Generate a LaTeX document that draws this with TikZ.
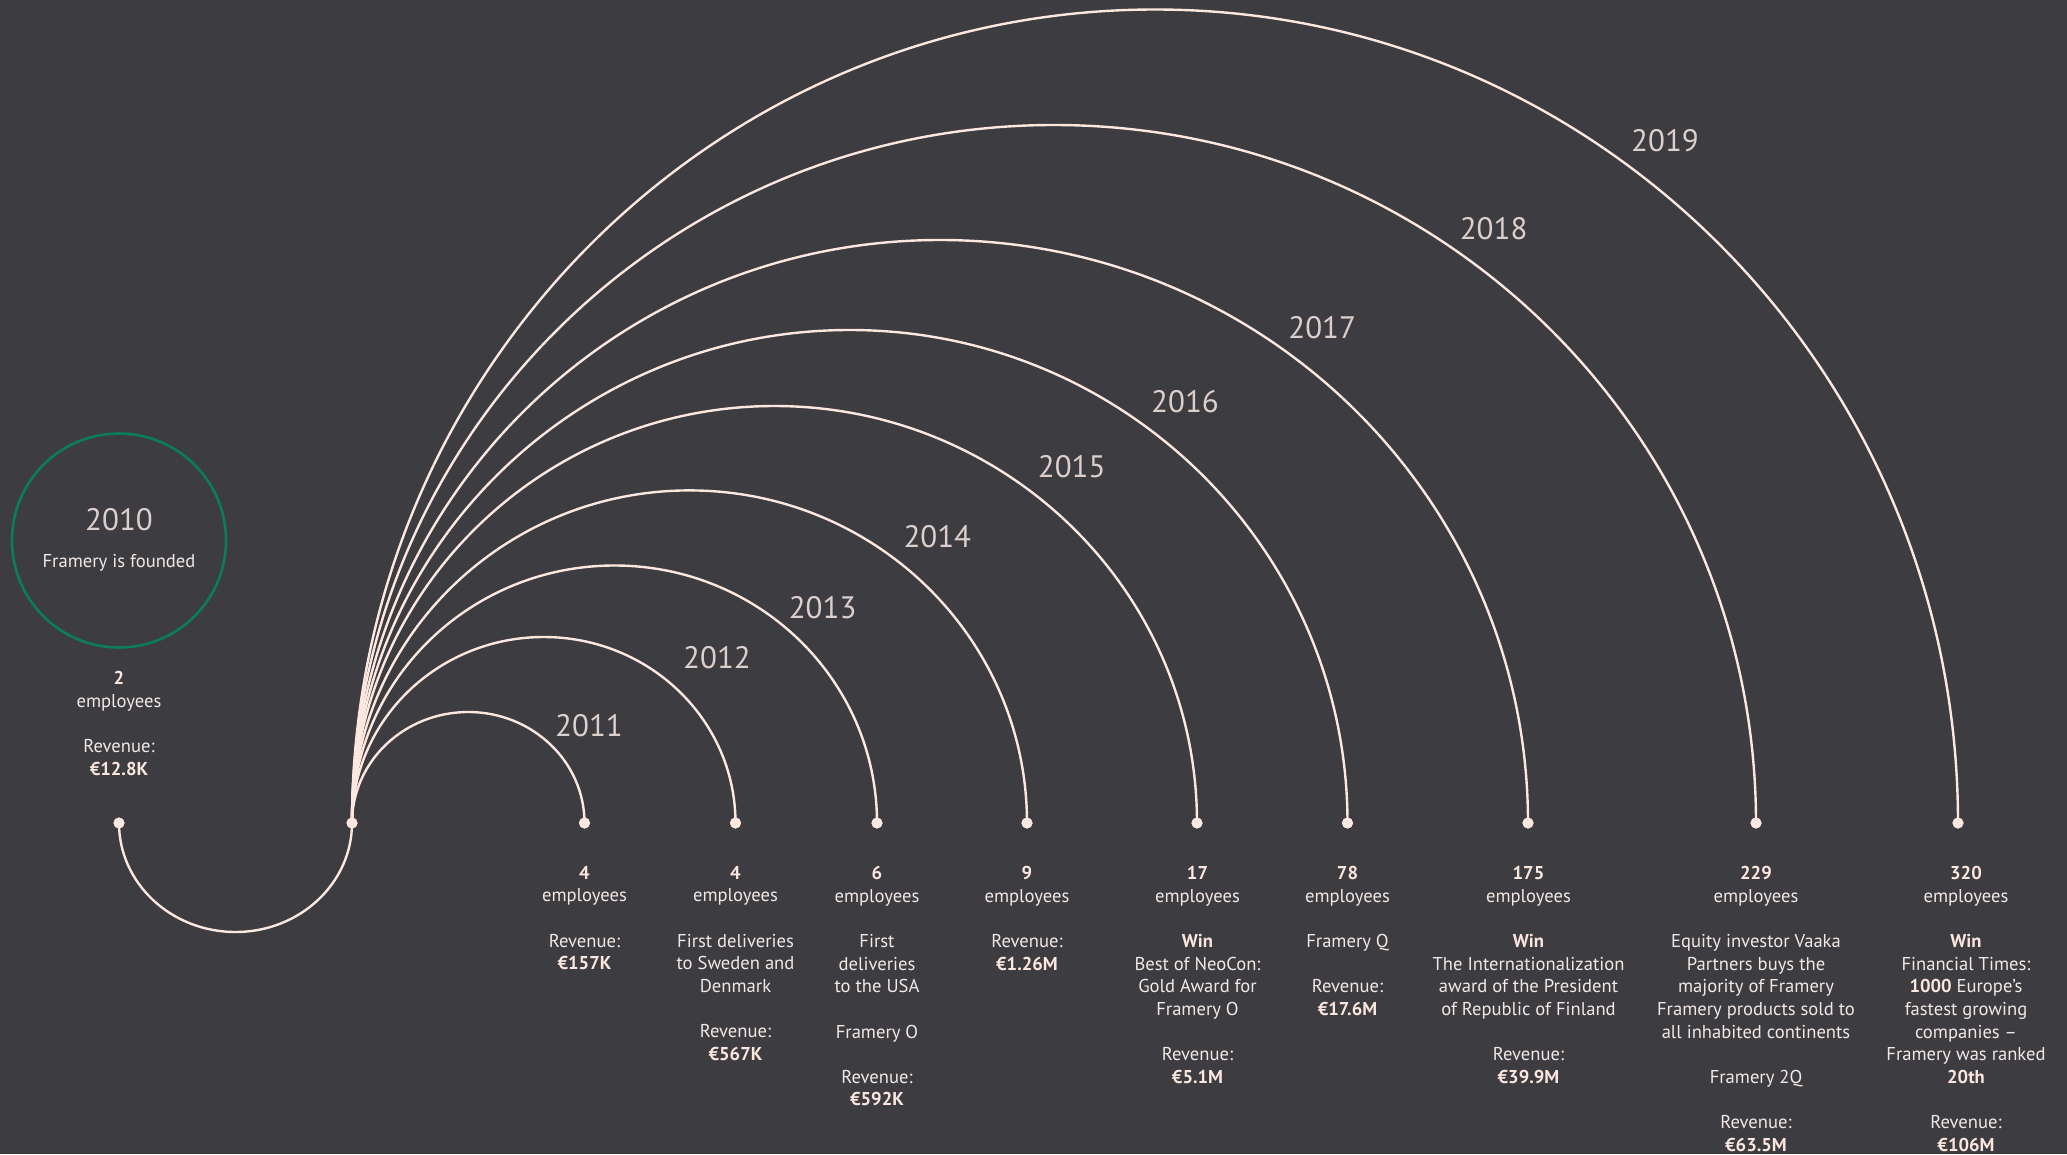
\documentclass[tikz,border=0pt]{standalone}
\usepackage{fontspec}
\setmainfont{PT Sans}
\definecolor{bg}{HTML}{3D3C41}
\definecolor{txt}{HTML}{F2E8E4}
\definecolor{boldc}{HTML}{FCE6DE}
\definecolor{yrc}{HTML}{DDD0CC}
\definecolor{dotc}{HTML}{FDE8E0}
\definecolor{grn}{HTML}{0B7D5A}
\newcommand{\pb}{\\[22.65pt]}
\newcommand{\bn}[1]{\textcolor{boldc}{\textbf{#1}}}
\tikzset{
  info/.style={anchor=north, align=center, inner sep=0pt, text=txt, font=\fontsize{18.6}{22.65}\selectfont},
  yearlbl/.style={inner sep=0pt, text=yrc, font=\fontsize{31}{36}\selectfont},
  dot/.style={circle, fill=dotc, inner sep=0pt, minimum size=11pt},
  arcline/.style={draw=dotc, line width=2.4pt},
}
\begin{document}
\begin{tikzpicture}[x=1pt,y=-1pt]
\useasboundingbox (0,0) rectangle (2067,1154);
\fill[bg] (0,0) rectangle (2067,1154);
% founding circle
\node[circle, draw=grn, line width=2.6pt, minimum size=214pt, inner sep=0pt] (c10) at (119,540.5) {};
\node[yearlbl] (y10) at (119,519.5) {2010};
\node[inner sep=0pt, text=txt, font=\fontsize{18.6}{22.65}\selectfont] (f10) at (119,563) {Framery is founded};
% dots
\node[dot] (p10) at (119,823) {};
\node[dot] (p0) at (352,823) {};
\node[dot] (p11) at (584.5,823) {};
\node[dot] (p12) at (735.5,823) {};
\node[dot] (p13) at (877,823) {};
\node[dot] (p14) at (1027,823) {};
\node[dot] (p15) at (1197,823) {};
\node[dot] (p16) at (1347.5,823) {};
\node[dot] (p17) at (1528,823) {};
\node[dot] (p18) at (1756,823) {};
\node[dot] (p19) at (1958,823) {};
% arcs
\draw[arcline] (p10.center) arc[start angle=180, end angle=0, x radius=116.5, y radius=109];
\draw[arcline] (p0.center) arc[start angle=180, end angle=360, x radius=116.25, y radius=111];
\draw[arcline] (p0.center) arc[start angle=180, end angle=360, x radius=191.75, y radius=186];
\draw[arcline] (p0.center) arc[start angle=180, end angle=360, x radius=262.5, y radius=257.5];
\draw[arcline] (p0.center) arc[start angle=180, end angle=360, x radius=337.5, y radius=332.6];
\draw[arcline] (p0.center) arc[start angle=180, end angle=360, x radius=422.5, y radius=417];
\draw[arcline] (p0.center) arc[start angle=180, end angle=360, x radius=497.75, y radius=493];
\draw[arcline] (p0.center) arc[start angle=180, end angle=360, x radius=588, y radius=583];
\draw[arcline] (p0.center) arc[start angle=180, end angle=360, x radius=702, y radius=698];
\draw[arcline] (p0.center) arc[start angle=180, end angle=360, x radius=803, y radius=813.5];
% redraw dots on top
\foreach \n in {p10,p0,p11,p12,p13,p14,p15,p16,p17,p18,p19} \fill[dotc] (\n.center) circle[radius=5.5pt];
% year labels
\node[yearlbl] (y11) at (589,726) {2011};
\node[yearlbl] (y12) at (717,657.5) {2012};
\node[yearlbl] (y13) at (822.6,607.4) {2013};
\node[yearlbl] (y14) at (937.3,536.2) {2014};
\node[yearlbl] (y15) at (1071.7,466.3) {2015};
\node[yearlbl] (y16) at (1185,401.7) {2016};
\node[yearlbl] (y17) at (1322.2,327.9) {2017};
\node[yearlbl] (y18) at (1493.6,229) {2018};
\node[yearlbl] (y19) at (1665,140.5) {2019};
% info blocks
\node[info] (t10) at (119,671) {\bn{2}\\employees\pb Revenue:\\\bn{€12.8K}};
\node[info] (t11) at (584.5,866) {\bn{4}\\employees\pb Revenue:\\\bn{€157K}};
\node[info] (t12) at (735.5,866) {\bn{4}\\employees\pb First deliveries\\to Sweden and\\Denmark\pb Revenue:\\\bn{€567K}};
\node[info] (t13) at (877,866) {\bn{6}\\employees\pb First\\deliveries\\to the USA\pb Framery O\pb Revenue:\\\bn{€592K}};
\node[info] (t14) at (1027,866) {\bn{9}\\employees\pb Revenue:\\\bn{€1.26M}};
\node[info] (t15) at (1197.5,866) {\bn{17}\\employees\pb \bn{Win}\\Best of NeoCon:\\Gold Award for\\Framery O\pb Revenue:\\\bn{€5.1M}};
\node[info] (t16) at (1347.5,866) {\bn{78}\\employees\pb Framery Q\pb Revenue:\\\bn{€17.6M}};
\node[info] (t17) at (1528.5,866) {\bn{175}\\employees\pb \bn{Win}\\The Internationalization\\award of the President\\of Republic of Finland\pb Revenue:\\\bn{€39.9M}};
\node[info] (t18) at (1756,866) {\bn{229}\\employees\pb Equity investor Vaaka\\Partners buys the\\majority of Framery\\Framery products sold to\\all inhabited continents\pb Framery 2Q\pb Revenue:\\\bn{€63.5M}};
\node[info] (t19) at (1966,866) {\bn{320}\\employees\pb \bn{Win}\\Financial Times:\\\bn{1000} Europe’s\\fastest growing\\companies –\\Framery was ranked\\\bn{20th}\pb Revenue:\\\bn{€106M}};
\end{tikzpicture}
\end{document}
